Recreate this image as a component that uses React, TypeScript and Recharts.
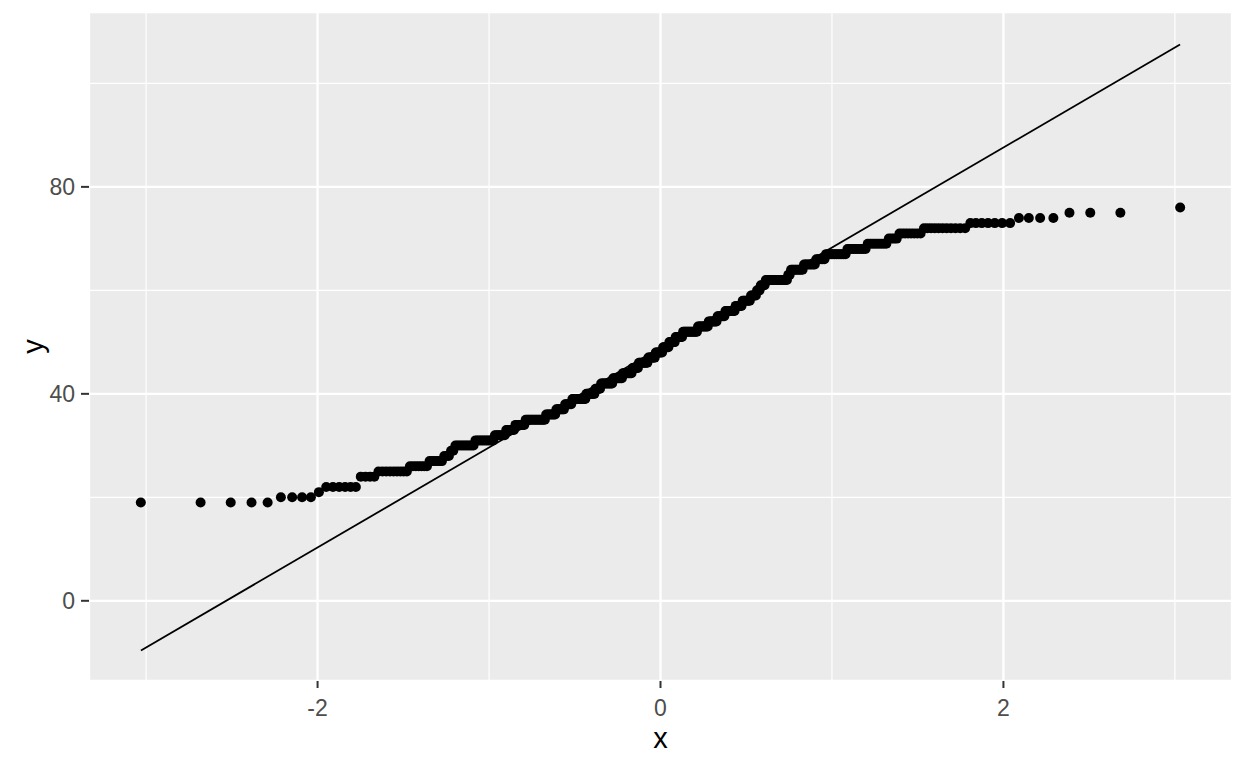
import React from 'react';
import { ScatterChart, Scatter, XAxis, YAxis, CartesianGrid, ReferenceLine } from 'recharts';

// sorted sample: each value and how many times it occurs
const sampleValues = [
  19, 20, 21, 22, 24, 25, 26, 27, 28, 29, 30, 31, 32, 33, 34, 35, 36, 37, 38, 39,
  40, 41, 42, 43, 44, 45, 46, 47, 48, 49, 50, 51, 52, 53, 54, 55, 56, 57, 58, 59,
  60, 61, 62, 63, 64, 65, 66, 67, 68, 69, 70, 71, 72, 73, 74, 75, 76,
];
const sampleCounts = [
  5, 4, 1, 6, 4, 9, 7, 6, 3, 2, 10, 11, 7, 6, 7, 15, 8, 7, 6, 12,
  8, 5, 11, 9, 9, 6, 9, 7, 7, 6, 6, 7, 14, 10, 8, 7, 9, 6, 7, 5,
  3, 4, 17, 2, 9, 8, 6, 12, 10, 9, 4, 8, 11, 7, 4, 3, 1,
];

const xMajorTicks = [-2, 0, 2];
const xMinorTicks = [-3, -1, 1, 3];
const yMajorTicks = [0, 40, 80];
const yMinorTicks = [20, 60, 100];
const xDomain = [-3.333, 3.333];
const yDomain = [-15.5, 113.8];

// qq reference line end points
const qqLineX = [-3.03, 3.03];
const qqLineY = [-9.6, 107.5];

// inverse normal cdf (Acklam) for theoretical quantiles, like stat_qq
const qnorm = (p: number): number => {
  const a = [-39.69683028665376, 220.9460984245205, -275.9285104469687, 138.357751867269, -30.66479806614716, 2.506628277459239];
  const b = [-54.47609879822406, 161.5858368580409, -155.6989798598866, 66.80131188771972, -13.28068155288572];
  const c = [-0.007784894002430293, -0.3223964580411365, -2.400758277161838, -2.549732539343734, 4.374664141464968, 2.938163982698783];
  const d = [0.007784695709041462, 0.3224671290700398, 2.445134137142996, 3.754408661907416];
  const plow = 0.02425;
  if (p < plow) {
    const q = Math.sqrt(-2 * Math.log(p));
    return (((((c[0] * q + c[1]) * q + c[2]) * q + c[3]) * q + c[4]) * q + c[5]) /
      ((((d[0] * q + d[1]) * q + d[2]) * q + d[3]) * q + 1);
  }
  if (p <= 1 - plow) {
    const q = p - 0.5;
    const r = q * q;
    return ((((((a[0] * r + a[1]) * r + a[2]) * r + a[3]) * r + a[4]) * r + a[5]) * q) /
      (((((b[0] * r + b[1]) * r + b[2]) * r + b[3]) * r + b[4]) * r + 1);
  }
  const q = Math.sqrt(-2 * Math.log(1 - p));
  return -(((((c[0] * q + c[1]) * q + c[2]) * q + c[3]) * q + c[4]) * q + c[5]) /
    ((((d[0] * q + d[1]) * q + d[2]) * q + d[3]) * q + 1);
};

const sorted = sampleValues.flatMap((v, i) => Array(sampleCounts[i]).fill(v));
const n = sorted.length;
const qqData = sorted.map((y, i) => ({ x: qnorm((i + 0.5) / n), y }));

const font = '"Liberation Sans", Arial, sans-serif';
const tickStyle = { fill: '#4D4D4D', fontSize: 23, fontFamily: font };

const Dot = (props: any) => <circle cx={props.cx} cy={props.cy} r={5} fill="#000" />;

const YTitle = (props: any) => {
  const { x, y, height } = props.viewBox;
  const cx = x + 33;
  const cy = y + height / 2;
  return (
    <text x={cx} y={cy} transform={`rotate(-90 ${cx} ${cy})`} textAnchor="middle"
      dominantBaseline="central" fontSize={29} fontFamily={font} fill="#000">y</text>
  );
};

const App = () => {
  return (
    <div style={{ position: 'absolute', left: 0, top: 0, width: 1248, height: 768, background: '#fff' }}>
      <ScatterChart width={1248} height={768} margin={{ top: 12, right: 16, bottom: 17, left: 0 }}>
        <XAxis xAxisId="minor" type="number" dataKey="x" domain={xDomain} ticks={xMinorTicks} allowDataOverflow hide />
        <YAxis yAxisId="minor" type="number" dataKey="y" domain={yDomain} ticks={yMinorTicks} allowDataOverflow hide />
        <CartesianGrid xAxisId="minor" yAxisId="minor" fill="#EBEBEB" stroke="#FFFFFF" strokeWidth={1.2} />
        <CartesianGrid xAxisId="major" yAxisId="major" stroke="#FFFFFF" strokeWidth={2.3} />
        <XAxis
          xAxisId="major"
          type="number"
          dataKey="x"
          domain={xDomain}
          ticks={xMajorTicks}
          allowDataOverflow
          axisLine={false}
          tickLine={{ stroke: '#333333', strokeWidth: 2 }}
          tickSize={7}
          tickMargin={12}
          tick={tickStyle}
          height={70}
          label={{ value: 'x', position: 'insideBottom', offset: 3, fill: '#000', fontSize: 29, fontFamily: font }}
        />
        <YAxis
          yAxisId="major"
          type="number"
          dataKey="y"
          domain={yDomain}
          ticks={yMajorTicks}
          allowDataOverflow
          axisLine={false}
          tickLine={{ stroke: '#333333', strokeWidth: 2 }}
          tickSize={8}
          tickMargin={6}
          tick={tickStyle}
          width={89}
          label={<YTitle />}
        />
        <Scatter xAxisId="major" yAxisId="major" data={qqData} shape={Dot} isAnimationActive={false} />
        <ReferenceLine
          xAxisId="major"
          yAxisId="major"
          segment={[{ x: qqLineX[0], y: qqLineY[0] }, { x: qqLineX[1], y: qqLineY[1] }]}
          stroke="#000"
          strokeWidth={1.8}
        />
      </ScatterChart>
    </div>
  );
};

export default App;
